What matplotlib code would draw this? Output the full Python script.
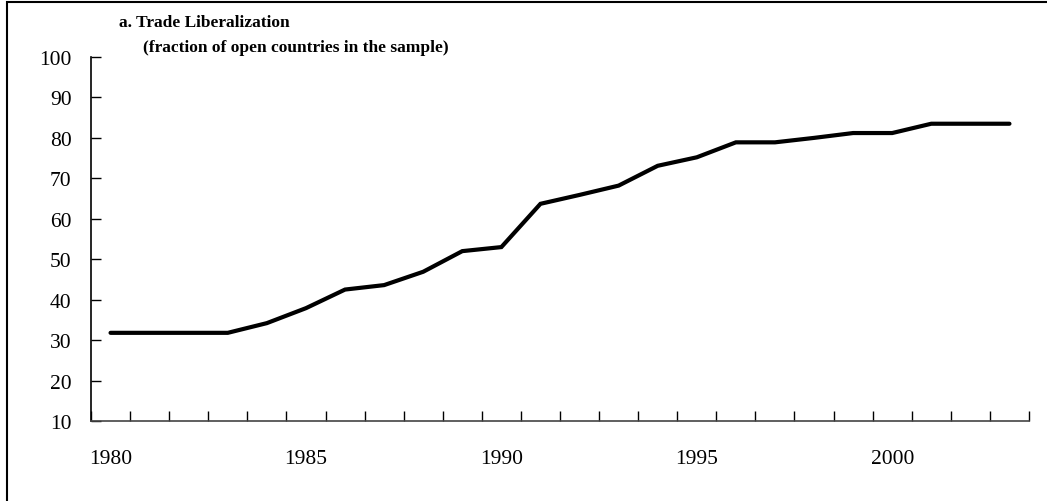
import matplotlib.pyplot as plt
import numpy as np
from matplotlib.patches import Rectangle

plt.rcParams['font.family'] = ['Liberation Serif', 'DejaVu Serif']

# fraction of open countries (%)
years = list(range(1980, 2004))
open_share = [31.8, 31.8, 31.8, 31.8, 34.2, 37.9, 42.5, 43.6, 46.9, 52.0,
              53.0, 63.7, 65.9, 68.2, 73.1, 75.2, 78.9, 78.9, 80.0, 81.2,
              81.2, 83.5, 83.5, 83.5]
label_years = [1980, 1985, 1990, 1995, 2000]

fig = plt.figure(figsize=(10.47, 5.02), dpi=100)
ax = fig.add_axes([91/1047, 1-422/502, (1029-91)/1047, (422-58)/502])

pos = np.arange(len(years))
ax.plot(pos, open_share, color='black', lw=3.0, solid_capstyle='round',
        solid_joinstyle='miter')

ax.set_xlim(-0.5, len(years) - 0.5)
ax.set_ylim(10, 100)
ax.set_yticks(range(10, 101, 10))

# category boundaries as tick marks, year labels under category centres
ax.set_xticks(np.arange(-0.5, len(years), 1))
ax.set_xticklabels([])
ax.set_xticks([years.index(y) for y in label_years], minor=True)
ax.set_xticklabels([str(y) for y in label_years], minor=True)
ax.tick_params(axis='x', which='major', direction='in', length=7, width=1)
ax.tick_params(axis='x', which='minor', length=0, pad=20, labelsize=15.5)
ax.tick_params(axis='y', direction='in', length=7, width=1, pad=14,
               labelsize=15.5)

for s in ['top', 'right']:
    ax.spines[s].set_visible(False)
ax.spines['left'].set_linewidth(1.2)
ax.spines['bottom'].set_linewidth(1.2)
ax.spines['bottom'].set_color('#444444')

fig.text(119/1047, 1-23/502, 'a. Trade Liberalization', fontsize=12.5,
         fontweight='bold', va='center', ha='left')
fig.text(143/1047, 1-48/502, '(fraction of open countries in the sample)',
         fontsize=12.5, fontweight='bold', va='center', ha='left')

# frame around the chart
fig.patches.append(Rectangle((7/1047, -0.1), 1.2, 1 - 3/502 + 0.1,
                             transform=fig.transFigure, fill=False,
                             edgecolor='black', lw=1.5))

fig.savefig('out.png', dpi=100)
